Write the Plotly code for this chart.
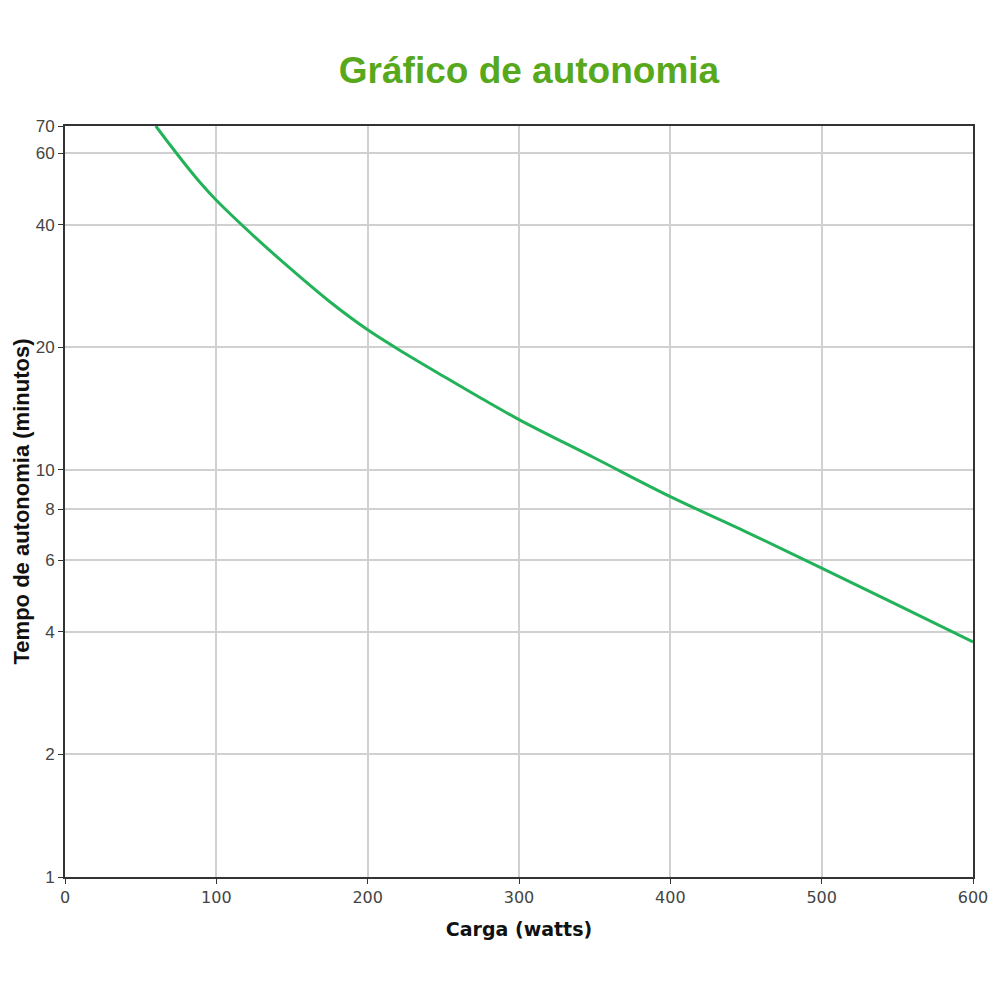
import plotly.graph_objects as go

carga_watts = [60, 70, 80, 90, 100, 125, 150, 175, 200, 225, 250, 275, 300, 350, 400, 450, 500, 550, 600]
autonomia_min = [70, 62.5, 56, 50.5, 46, 37.5, 31, 25.9, 22.1, 19.3, 17.0, 15.0, 13.3, 10.7, 8.6, 7.05, 5.74, 4.66, 3.78]

x_ticks = [0, 100, 200, 300, 400, 500, 600]
y_ticks = [1, 2, 4, 6, 8, 10, 20, 40, 60, 70]

fig = go.Figure()
fig.add_trace(go.Scatter(
    x=carga_watts, y=autonomia_min, mode="lines",
    line=dict(color="#22b35a", width=3, shape="spline", smoothing=1.0),
    showlegend=False, hoverinfo="x+y"))

fig.update_layout(
    width=1000, height=1000,
    paper_bgcolor="white", plot_bgcolor="white",
    margin=dict(l=57, r=35, t=118, b=131),
    title=dict(text="<b>Gráfico de autonomia</b>", x=0.521, xanchor="center",
               y=0.938, yanchor="middle",
               font=dict(family="Liberation Sans, Arial, sans-serif", size=37, color="#58a81c")),
    font=dict(family="Liberation Sans, Arial, sans-serif"),
)
fig.update_xaxes(
    range=[0, 600], tickvals=x_ticks, ticktext=[str(v) for v in x_ticks],
    automargin=False,
    showgrid=True, gridcolor="#d0d0d0", gridwidth=1.5,
    showline=True, linecolor="#333", linewidth=2, mirror=True,
    ticks="outside", ticklen=5, tickcolor="#333",
    tickfont=dict(family="DejaVu Sans, sans-serif", size=16, color="#444"),
    zeroline=False,
    title=dict(text="<b>Carga (watts)</b>", standoff=16,
               font=dict(family="DejaVu Sans, sans-serif", size=19, color="#111")))
fig.update_yaxes(
    type="log", range=[0, 1.8451], tickvals=y_ticks, ticktext=[str(v) for v in y_ticks],
    automargin=False,
    showgrid=True, gridcolor="#d0d0d0", gridwidth=1.5,
    showline=True, linecolor="#333", linewidth=2, mirror=True,
    ticks="outside", ticklen=5, tickcolor="#333",
    tickfont=dict(family="Liberation Sans, Arial, sans-serif", size=17, color="#444"),
    zeroline=False,
    title=dict(text="<b>Tempo de autonomia (minutos)</b>", standoff=0,
               font=dict(family="Liberation Sans, Arial, sans-serif", size=22, color="#111")))

fig.write_html("out.html")
